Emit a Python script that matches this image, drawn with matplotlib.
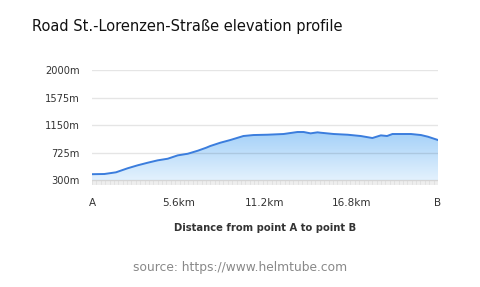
import matplotlib.pyplot as plt
import numpy as np
from matplotlib.colors import LinearSegmentedColormap
from matplotlib.patches import Polygon

# distance along the road (km) and elevation (m)
dist_km = [0.0, 0.8, 1.55, 2.3, 2.95, 3.6, 4.25, 4.9, 5.55, 6.2, 6.85, 7.4,
           7.65, 8.3, 8.95, 9.8, 10.45, 11.35, 12.4, 13.3, 13.7, 14.15, 14.6,
           14.8, 15.65, 16.55, 17.4, 18.15, 18.7, 19.1, 19.45, 20.0, 20.65,
           21.3, 21.75, 22.4]
elev_m = [390, 393, 419, 481, 527, 567, 604, 629, 681, 706, 753, 800,
          825, 876, 918, 980, 995, 1000, 1011, 1042, 1042, 1021, 1037,
          1031, 1011, 1000, 980, 949, 990, 980, 1011, 1011, 1011,
          995, 969, 918]

y_ticks = [300, 725, 1150, 1575, 2000]
x_ticks = [0, 5.6, 11.2, 16.8, 22.4]
x_labels = ["A", "5.6km", "11.2km", "16.8km", "B"]

ymin, ymax = 223, 2000
line_col = "#3b7ddd"

fig = plt.figure(figsize=(4.8, 2.87), dpi=100)
ax = fig.add_axes([0.1917, 0.3554, 0.7208, 0.4007])

x = np.array(dist_km)
y = np.array(elev_m)

# gradient fill under the line
cmap = LinearSegmentedColormap.from_list("fill", ["#eaf5fe", "#a3d0f8"])
grad = np.linspace(0, 1, 256).reshape(-1, 1)
im = ax.imshow(grad, aspect="auto", cmap=cmap, origin="lower",
               extent=[x[0], x[-1], ymin, max(elev_m)], zorder=1)
poly = Polygon(np.column_stack([np.r_[x[0], x, x[-1]], np.r_[ymin, y, ymin]]),
               closed=True, facecolor="none", edgecolor="none")
ax.add_patch(poly)
im.set_clip_path(poly)

ax.plot(x, y, color=line_col, lw=1.4, zorder=3)

# light band at the bottom with tiny ticks
ax.axhspan(ymin, 300, color="#eeeeee", zorder=2, lw=0)
for t in np.linspace(0, 22.4, 80):
    ax.plot([t, t], [ymin + 15, 290], color="#dcdcdc", lw=0.5, zorder=2)

for v in y_ticks:
    ax.axhline(v, color=(0, 0, 0, 0.1), lw=1, zorder=2)

ax.set_xlim(0, 22.4)
ax.set_ylim(ymin, ymax)
ax.set_yticks(y_ticks)
ax.set_yticklabels([f"{v}m" for v in y_ticks])
ax.set_xticks(x_ticks)
ax.set_xticklabels(x_labels)
ax.tick_params(axis="both", length=0, labelsize=7.5, colors="#333333")
ax.tick_params(axis="y", pad=9, labelsize=7.1)
ax.tick_params(axis="x", pad=9)
for s in ax.spines.values():
    s.set_visible(False)

ax.set_xlabel("Distance from point A to point B", fontsize=7.2,
              fontweight="bold", color="#333333", labelpad=11)

fig.text(32 / 480, 1 - 27 / 287, "Road St.-Lorenzen-Straße elevation profile",
         fontsize=10.5, color="#111111", va="center", ha="left")
fig.text(240 / 480, 1 - 268 / 287, "source: https://www.helmtube.com",
         fontsize=8.8, color="#888888", va="center", ha="center")

fig.savefig("out.png", dpi=100)
